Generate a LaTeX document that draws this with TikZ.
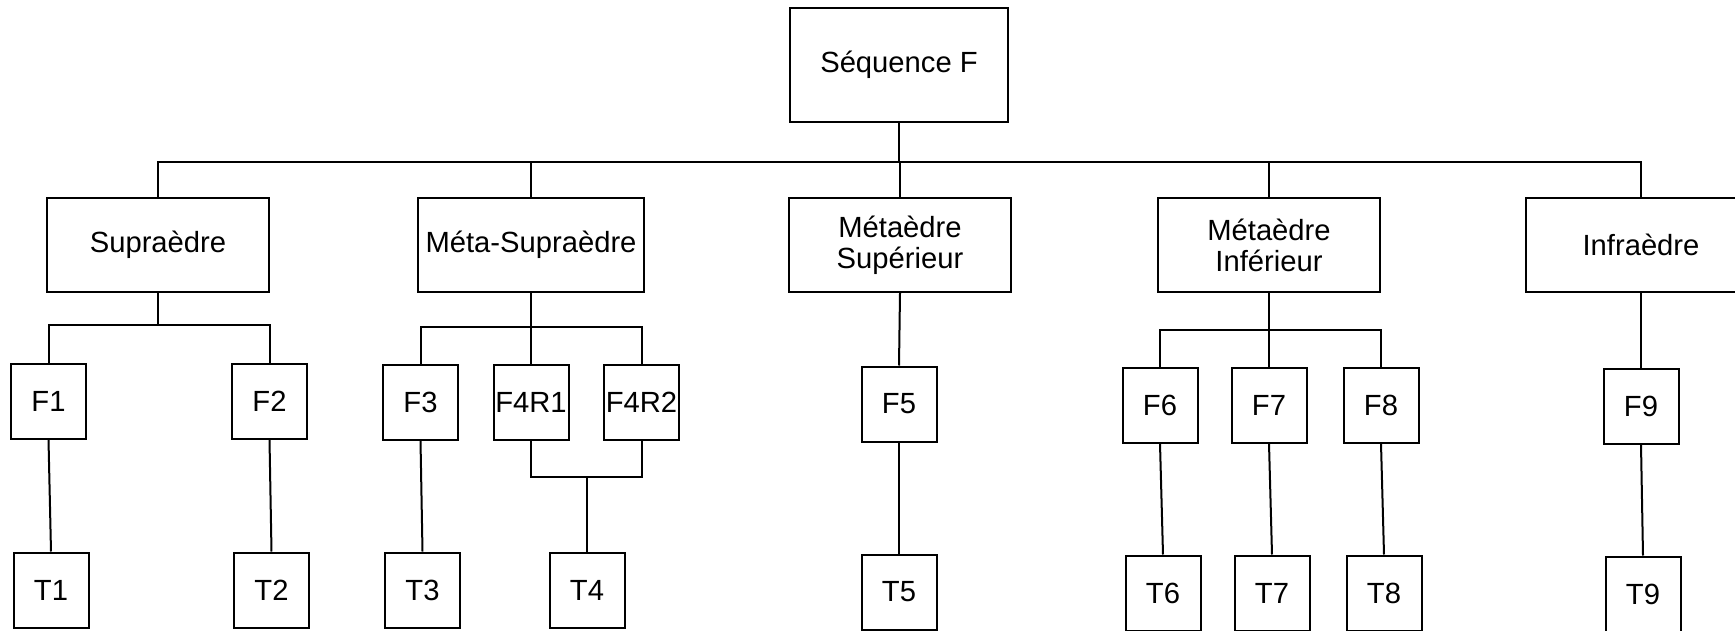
\documentclass[tikz,border=0pt]{standalone}
\usepackage{fontspec}
\setmainfont{Liberation Sans}
\begin{document}
\begin{tikzpicture}[x=0.5pt,y=-0.5pt]
\tikzset{
 lw/.style={line width=1pt},
 bigbox/.style={draw, lw, inner sep=0pt, align=center, minimum width=111pt, minimum height=47pt, font=\fontsize{14.6}{15.5}\selectfont},
 smallbox/.style={draw, lw, inner sep=0pt, minimum width=37.5pt, minimum height=37.5pt, font=\fontsize{14.6}{15.5}\selectfont},
 link/.style={lw}
}
\useasboundingbox (0,0) rectangle (1735,631);
% level 0 and 1
\node[bigbox, minimum width=109pt, minimum height=57pt] (seq) at (899,65) {Séquence F};
\node[bigbox] (sup) at (158,245) {Supraèdre};
\node[bigbox, minimum width=113pt] (msup) at (531,245) {Méta-Supraèdre};
\node[bigbox] (mesup) at (900,245) {Métaèdre\\Supérieur};
\node[bigbox] (meinf) at (1269,245) {Métaèdre\\Inférieur};
\node[bigbox, minimum width=115pt] (infra) at (1641,245) {Infraèdre};
% level 2
\node[smallbox] (F1) at (48.5,401) {F1};
\node[smallbox] (F2) at (269.5,401) {F2};
\node[smallbox] (F3) at (420.5,402) {F3};
\node[smallbox] (F4R1) at (531,402.5) {F4R1};
\node[smallbox] (F4R2) at (641.5,402.5) {F4R2};
\node[smallbox] (F5) at (899,404) {F5};
\node[smallbox] (F6) at (1160,405) {F6};
\node[smallbox] (F7) at (1269,405) {F7};
\node[smallbox] (F8) at (1381,405) {F8};
\node[smallbox] (F9) at (1641,406) {F9};
% level 3
\node[smallbox] (T1) at (51,590) {T1};
\node[smallbox] (T2) at (271.5,590) {T2};
\node[smallbox] (T3) at (422.5,590) {T3};
\node[smallbox] (T4) at (587,590) {T4};
\node[smallbox] (T5) at (899,592) {T5};
\node[smallbox] (T6) at (1163,593) {T6};
\node[smallbox] (T7) at (1272,593) {T7};
\node[smallbox] (T8) at (1384,593) {T8};
\node[smallbox] (T9) at (1643,594) {T9};
% connectors
\coordinate (bus) at (0,162);
\coordinate (sb1) at (0,325);
\coordinate (sb2) at (0,327);
\coordinate (sb3) at (0,330);
\coordinate (jn) at (0,477);
\draw[link] (seq.south) -- (seq.south|-bus);
\draw[link] (sup.north) -- (sup.north|-bus) -- (infra.north|-bus) -- (infra.north);
\foreach \n in {msup,mesup,meinf} \draw[link] (\n.north) -- (\n.north|-bus);
\draw[link] (sup.south) -- (sup.south|-sb1);
\draw[link] (F1.north) -- (F1.north|-sb1) -- (F2.north|-sb1) -- (F2.north);
\draw[link] (msup.south) -- (F4R1.north);
\draw[link] (F3.north) -- (F3.north|-sb2) -- (F4R2.north|-sb2) -- (F4R2.north);
\draw[link] (F4R1.south) -- (F4R1.south|-jn) -- (F4R2.south|-jn) -- (F4R2.south);
\draw[link] (T4.north) -- (T4.north|-jn);
\draw[link] (mesup.south) -- (F5.north);
\draw[link] (meinf.south) -- (F7.north);
\draw[link] (F6.north) -- (F6.north|-sb3) -- (F8.north|-sb3) -- (F8.north);
\draw[link] (infra.south) -- (F9.north);
\foreach \i in {1,2,3,5,6,7,8,9} \draw[link] (F\i.south) -- (T\i.north);
\end{tikzpicture}
\end{document}
